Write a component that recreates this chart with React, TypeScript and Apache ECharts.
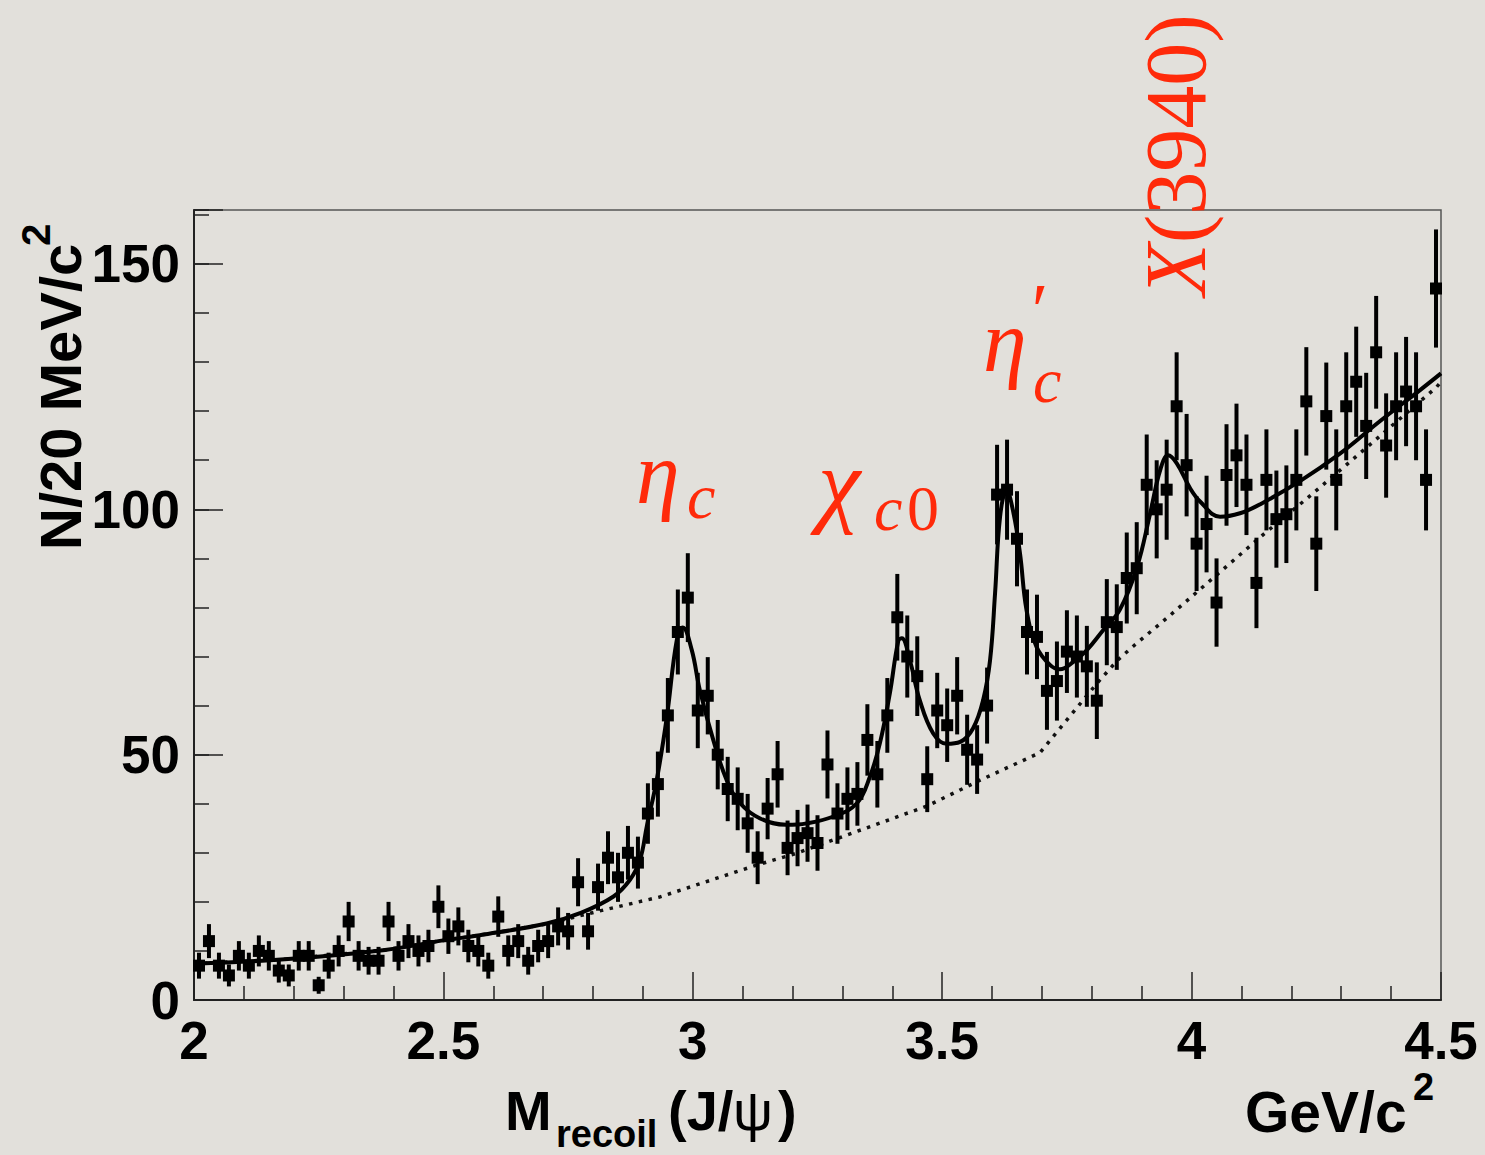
import React, { useEffect, useRef } from 'react';
import * as echarts from 'echarts';

// Histogram: 20 MeV bins from 2.00 to 4.50 GeV/c^2
const binStart = 2.0;
const binWidth = 0.02;
const counts = [
  7, 12, 7, 5, 9, 7, 10, 9, 6, 5, 9, 9, 3, 7, 10, 16, 9, 8, 8, 16, 9, 12, 10, 11, 19,
  13, 15, 11, 10, 7, 17, 10, 12, 8, 11, 12, 15, 14, 24, 14, 23, 29, 25, 30, 28, 38, 44, 58, 75, 82,
  59, 62, 50, 43, 41, 36, 29, 39, 46, 31, 33, 34, 32, 48, 38, 41, 42, 53, 46, 58, 78, 70, 66, 45, 59,
  56, 62, 51, 49, 60, 103, 104, 94, 75, 74, 63, 65, 71, 70, 68, 61, 77, 76, 86, 88, 105, 100, 104, 121, 109,
  93, 97, 81, 107, 111, 105, 85, 106, 98, 99, 106, 122, 93, 119, 106, 121, 126, 117, 132, 113, 121, 124, 121, 106, 145,
];

// Fit curve (solid)
const fitX = [
  2.0, 2.182, 2.383, 2.503, 2.573, 2.707, 2.774, 2.841, 2.874, 2.894, 2.908, 2.928, 2.948, 2.968, 2.98,
  2.998, 3.014, 3.041, 3.068, 3.095, 3.135, 3.188, 3.228, 3.282, 3.329, 3.355, 3.375, 3.395, 3.412, 3.419,
  3.435, 3.455, 3.482, 3.509, 3.536, 3.562, 3.582, 3.596, 3.606, 3.616, 3.629, 3.643, 3.656, 3.669, 3.689,
  3.716, 3.736, 3.763, 3.79, 3.823, 3.856, 3.89, 3.917, 3.937, 3.953, 3.97, 3.997, 4.017, 4.057, 4.097,
  4.137, 4.218, 4.298, 4.378, 4.458, 4.5,
];
const fitY = [
  7.4, 8.3, 10.2, 12.2, 13.2, 15.6, 17.7, 21.1, 24.5, 28.5, 35.5, 45, 57.7, 73.4, 75.9,
  71.3, 63.2, 53, 44.8, 40.1, 37, 35.7, 36, 37.4, 40.1, 45.5, 52.3, 62.5, 73.2, 73.7,
  69.3, 61.1, 54.3, 52.2, 52.6, 55.4, 61.1, 69.3, 82.9, 98.5, 103.9, 99.2, 91, 79.5, 72,
  68.3, 67.4, 68.9, 71.3, 75.4, 79.5, 88, 99.2, 108, 111, 109.4, 104.3, 101.6, 98.5, 99.2,
  101, 105.8, 111.4, 118, 124.3, 127.7,
];

// Background (dotted)
const bgX = [
  2.0, 2.182, 2.383, 2.503, 2.573, 2.707, 2.807, 2.934, 3.128, 3.208, 3.262, 3.469, 3.576, 3.696,
  3.81, 3.852, 3.883, 3.95, 4.017, 4.143, 4.224, 4.304, 4.384, 4.491, 4.5,
];
const bgY = [
  7.4, 8.3, 10.2, 12.2, 13.2, 15.5, 18, 21, 27.5, 29.9, 31.9, 39.5, 44.8, 50.4,
  64.5, 69.3, 72.1, 77.8, 83.7, 94.8, 101.6, 108.5, 115.5, 124.9, 126,
];

const RED = '#ff2a0a';
const SANS = "'Liberation Sans', Arial, Helvetica, sans-serif";
const SERIF = "'Liberation Serif', 'DejaVu Serif', 'Times New Roman', serif";

function t(text: string, x: number, y: number, fontSize: number, extra: any = {}) {
  return {
    type: 'text',
    x,
    y,
    z: 100,
    rotation: extra.rotation || 0,
    style: {
      text,
      fontSize,
      fontFamily: extra.fontFamily || SANS,
      fontWeight: extra.fontWeight || 'bold',
      fontStyle: extra.fontStyle || 'normal',
      fill: extra.fill || '#000',
      align: extra.align || 'left',
      verticalAlign: 'middle',
    },
  };
}

export default function App() {
  const ref = useRef<HTMLDivElement>(null);
  useEffect(() => {
    const chart = echarts.init(ref.current!, null, { renderer: 'svg' });
    const pts = counts.map((n, i) => [binStart + binWidth * (i + 0.5), n]);
    const errs = counts.map((n, i) => [binStart + binWidth * (i + 0.5), n - Math.sqrt(n), n + Math.sqrt(n)]);
    const fit = fitX.map((x, i) => [x, fitY[i]]);
    const bg = bgX.map((x, i) => [x, bgY[i]]);

    const redSerif = { fontFamily: SERIF, fontWeight: 'normal', fill: RED };
    const redItal = { ...redSerif, fontStyle: 'italic' };

    chart.setOption({
      animation: false,
      backgroundColor: '#e2e0db',
      grid: { left: 194, top: 210, width: 1247, height: 790, show: true, borderColor: '#555', borderWidth: 1.5, backgroundColor: 'transparent' },
      xAxis: {
        type: 'value',
        min: 2,
        max: 4.5,
        interval: 0.5,
        axisLine: { show: true, lineStyle: { color: '#222', width: 2 } },
        axisTick: { show: true, inside: true, length: 28, lineStyle: { color: '#222', width: 1.5 } },
        minorTick: { show: true, splitNumber: 5, length: 14, lineStyle: { color: '#222', width: 1.5 } },
        splitLine: { show: false },
        axisLabel: { fontSize: 53, fontWeight: 'bold', fontFamily: SANS, color: '#000', margin: 14 },
      },
      yAxis: [
        {
          type: 'value',
          min: 0,
          max: 161,
          interval: 10,
          axisLine: { show: true, lineStyle: { color: '#222', width: 2 } },
          axisTick: { show: true, inside: true, length: 15, lineStyle: { color: '#222', width: 1.5 } },
          splitLine: { show: false },
          axisLabel: {
            fontSize: 53,
            fontWeight: 'bold',
            fontFamily: SANS,
            color: '#000',
            margin: 14,
            formatter: (v: number) => (v % 50 === 0 ? String(v) : ''),
          },
        },
        {
          type: 'value',
          min: 0,
          max: 161,
          interval: 50,
          position: 'left',
          axisLine: { show: false },
          axisTick: { show: true, inside: true, length: 29, lineStyle: { color: '#222', width: 1.5 } },
          axisLabel: { show: false },
          splitLine: { show: false },
        },
      ],
      series: [
        {
          type: 'line',
          data: bg,
          showSymbol: false,
          symbol: 'none',
          lineStyle: { color: '#111', width: 3.5, type: [3.5, 6.5], cap: 'butt' },
          z: 2,
        },
        {
          type: 'line',
          data: fit,
          showSymbol: false,
          symbol: 'none',
          smooth: 0.4,
          lineStyle: { color: '#000', width: 4 },
          z: 3,
        },
        {
          type: 'custom',
          data: errs,
          encode: { x: 0, y: [1, 2] },
          renderItem: (params: any, api: any) => {
            const x = api.value(0);
            const p1 = api.coord([x, api.value(1)]);
            const p2 = api.coord([x, api.value(2)]);
            return {
              type: 'line',
              shape: { x1: p1[0], y1: p1[1], x2: p2[0], y2: p2[1] },
              style: { stroke: '#000', lineWidth: 4 },
            };
          },
          z: 4,
        },
        {
          type: 'scatter',
          data: pts,
          symbol: 'rect',
          symbolSize: 12,
          itemStyle: { color: '#000', opacity: 1 },
          z: 5,
        },
      ],
      graphic: [
        // x-axis title
        t('M', 505, 1110, 56),
        t('recoil', 556, 1134, 38),
        t('(J/', 668, 1110, 56),
        t('ψ', 733, 1110, 56, { fontWeight: 'normal' }),
        t(')', 778, 1110, 56),
        t('GeV/c', 1245, 1112, 57),
        t('2', 1413, 1087, 38),
        // y-axis title
        t('N/20 MeV/c', 60, 550, 58, { rotation: Math.PI / 2 }),
        t('2', 36, 246, 40, { rotation: Math.PI / 2 }),
        // peak labels
        t('η', 636, 473, 88, redItal),
        t('c', 687, 496, 64, redItal),
        t('χ', 818, 482, 96, redItal),
        t('c', 874, 508, 64, redItal),
        t('0', 907, 508, 64, redSerif),
        t('η', 983, 341, 88, redItal),
        t('′', 1027, 310, 76, redItal),
        t('c', 1033, 380, 64, redItal),
        {
          type: 'text',
          x: 1176,
          y: 155,
          z: 100,
          rotation: Math.PI / 2,
          style: {
            text: '{i|X}{n|(3940)}',
            align: 'center',
            verticalAlign: 'middle',
            fill: RED,
            fontSize: 86,
            fontFamily: SERIF,
            rich: {
              i: { fontStyle: 'italic', fontSize: 86, fontFamily: SERIF, fill: RED },
              n: { fontSize: 86, fontFamily: SERIF, fill: RED },
            },
          },
        },
      ],
    });
    return () => chart.dispose();
  }, []);
  return <div ref={ref} style={{ position: 'fixed', left: 0, top: 0, width: 1485, height: 1155 }} />;
}
